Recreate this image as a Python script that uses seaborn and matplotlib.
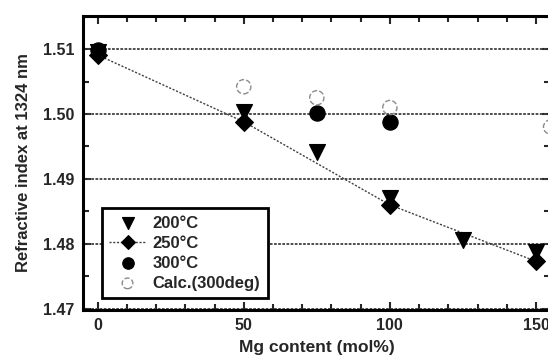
import matplotlib
matplotlib.use("Agg")
import matplotlib.pyplot as plt
import seaborn as sns
import pandas as pd
from matplotlib.ticker import MultipleLocator, FormatStrFormatter

# ---- data ----
x_200 = [0, 50, 75, 100, 125, 150]
y_200 = [1.5095, 1.5003, 1.4941, 1.4870, 1.4806, 1.4787]

x_250 = [0, 50, 100, 150]
y_250 = [1.5091, 1.4988, 1.4860, 1.4773]

x_300 = [0, 75, 100]
y_300 = [1.5098, 1.5002, 1.4988]

x_calc = [50, 75, 100, 155]
y_calc = [1.5042, 1.5025, 1.5010, 1.4980]

labels = ["200°C", "250°C", "300°C", "Calc.(300deg)"]
x_ticks = [0, 50, 100, 150]
y_ticks = [1.47, 1.48, 1.49, 1.50, 1.51]

sns.set_style("ticks")
plt.rcParams['font.family'] = ['Liberation Sans', 'DejaVu Sans']
plt.rcParams['font.weight'] = 'bold'

fig = plt.figure(figsize=(5.48, 3.62), dpi=100)
ax = fig.add_axes([83/548, 1 - 310/362, (550-83)/548, (310-16)/362])

for yv in y_ticks:
    ax.axhline(yv, color='0.25', lw=1.3, ls=(0, (1.5, 0.8)), zorder=1)

d200 = pd.DataFrame({"x": x_200, "y": y_200})
d250 = pd.DataFrame({"x": x_250, "y": y_250})
d300 = pd.DataFrame({"x": x_300, "y": y_300})
dcal = pd.DataFrame({"x": x_calc, "y": y_calc})

sns.lineplot(data=d250, x="x", y="y", ax=ax, color='0.25', lw=1.0,
             ls=(0, (1.5, 1.2)), marker='D', markersize=9, markerfacecolor='black',
             markeredgecolor='black', label=labels[1], zorder=3)
sns.scatterplot(data=d200, x="x", y="y", ax=ax, marker='v', s=130, color='black',
                edgecolor='black', label=labels[0], zorder=4)
sns.scatterplot(data=d300, x="x", y="y", ax=ax, marker='o', s=120, color='black',
                edgecolor='black', label=labels[2], zorder=5)
sns.scatterplot(data=dcal, x="x", y="y", ax=ax, marker='o', s=105, facecolor='none',
                edgecolor='0.55', linestyle='--', linewidth=1.0, label=labels[3], zorder=5)

ax.set_xlim(-5, 154.8)
ax.set_ylim(1.4698, 1.5151)
ax.set_xticks(x_ticks)
ax.set_yticks(y_ticks)
ax.yaxis.set_major_formatter(FormatStrFormatter('%.2f'))
ax.xaxis.set_minor_locator(MultipleLocator(10))
ax.yaxis.set_minor_locator(MultipleLocator(0.005))
ax.tick_params(which='both', direction='in', top=True, right=True, width=1.5,
               labelsize=11.5, pad=6)
ax.tick_params(which='major', length=6)
ax.tick_params(which='minor', length=4)
for lab in ax.get_xticklabels() + ax.get_yticklabels():
    lab.set_fontweight('bold')
for s in ax.spines.values():
    s.set_linewidth(2.2)
    s.set_color('black')

ax.set_xlabel("Mg content (mol%)", fontsize=12.5, fontweight='bold', labelpad=5)
ax.set_ylabel("Refractive index at 1324 nm", fontsize=12, fontweight='bold', labelpad=9)

handles, labs = ax.get_legend_handles_labels()
order = [labs.index(l) for l in labels]
leg = ax.legend([handles[i] for i in order], [labs[i] for i in order],
                loc='lower left', bbox_to_anchor=(0.04, 0.04), borderaxespad=0,
                frameon=True, fancybox=False, edgecolor='black', framealpha=1,
                prop={'weight': 'bold', 'size': 12}, handlelength=2.2,
                markerscale=0.75, labelspacing=0.3, borderpad=0.45,
                handletextpad=0.4)
leg.get_frame().set_linewidth(2.0)

fig.savefig("out.png", dpi=100)
